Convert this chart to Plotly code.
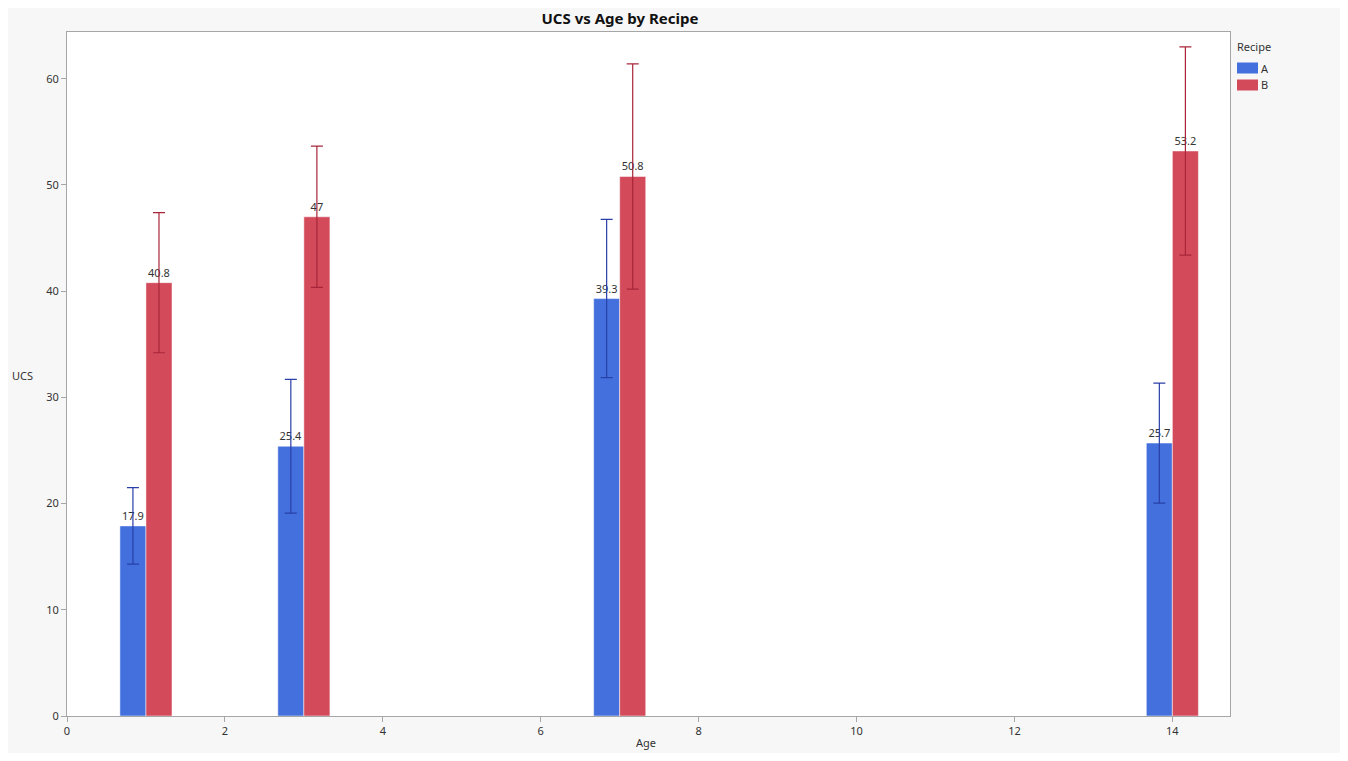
import plotly.graph_objects as go

ages = [1, 3, 7, 14]
ucs_a = [17.9, 25.4, 39.3, 25.7]
ucs_b = [40.8, 47.0, 50.8, 53.2]
err_a = [3.6, 6.3, 7.45, 5.65]
err_b = [6.6, 6.65, 10.6, 9.8]
x_ticks = [0, 2, 4, 6, 8, 10, 12, 14]
y_ticks = [0, 10, 20, 30, 40, 50, 60]
recipes = ["A", "B"]
colors = ["#4370dc", "#d34a5a"]

FONT = "Noto Sans"
# page offset of 8px (body margin); plot area in page pixels: x 67..1230, y 32..716
OX, OY = 8, 8
PL, PR, PT, PB = 67, 1230, 32, 716
PW, PH = PR - PL, PB - PT


def px(x):
    return (x - PL) / PW


def py(y):
    return (PB - y) / PH


fig = go.Figure()
fig.add_trace(go.Bar(
    x=ages, y=ucs_a, name=recipes[0], width=0.33, offset=-0.33,
    marker=dict(color=colors[0], line=dict(color="rgba(255,255,255,0.5)", width=1)),
    error_y=dict(type="data", array=err_a, color="#2a3fa8", thickness=1.2, width=6),
    text=[f"{v:g}" for v in ucs_a], textposition="outside",
    textfont=dict(size=11, color="#333333", family=FONT), cliponaxis=False,
))
fig.add_trace(go.Bar(
    x=ages, y=ucs_b, name=recipes[1], width=0.33, offset=0,
    marker=dict(color=colors[1], line=dict(color="rgba(255,255,255,0.5)", width=1)),
    error_y=dict(type="data", array=err_b, color="#a8263a", thickness=1.2, width=6),
    text=[f"{v:g}" for v in ucs_b], textposition="outside",
    textfont=dict(size=11, color="#333333", family=FONT), cliponaxis=False,
))

shapes = []
annotations = [
    dict(text="UCS", xref="paper", yref="paper", x=px(22), y=py(375), showarrow=False,
         xanchor="center", yanchor="middle", font=dict(size=11, color="#333333")),
    dict(text="Age", xref="paper", yref="paper", x=px(646), y=py(742), showarrow=False,
         xanchor="center", yanchor="middle", font=dict(size=11, color="#333333")),
    dict(text="Recipe", xref="paper", yref="paper", x=px(1235), y=py(47), showarrow=False,
         xanchor="left", yanchor="middle", font=dict(size=11, color="#333333")),
]
for i, (name, col) in enumerate(zip(recipes, colors)):
    yc = 68 + 17 * i
    shapes.append(dict(type="rect", xref="paper", yref="paper", x0=px(1237), x1=px(1258),
                       y0=py(yc + 5.5), y1=py(yc - 5.5), fillcolor=col, line=dict(width=0)))
    annotations.append(dict(text=name, xref="paper", yref="paper", x=px(1259), y=py(yc),
                            showarrow=False, xanchor="left", yanchor="middle",
                            font=dict(size=11, color="#333333")))

fig.update_layout(
    width=1332, height=745, barmode="overlay", showlegend=False,
    margin=dict(l=PL - OX, r=1332 + OX - PR, t=PT - OY, b=745 + OY - PB, autoexpand=False),
    paper_bgcolor="#f7f7f7", plot_bgcolor="white",
    font=dict(family=FONT, size=11, color="#333333"),
    title=dict(text="<b>UCS vs Age by Recipe</b>", x=(620 - OX) / 1332, xanchor="center",
               y=1 - (19 - OY) / 745, yanchor="middle",
               font=dict(size=15, color="#111111", family=FONT)),
    xaxis=dict(range=[0, 14.73], tickvals=x_ticks, showgrid=False, zeroline=False,
               showline=True, linecolor="#a6a6a6", mirror=True, ticks="outside",
               ticklen=5, tickcolor="#a6a6a6", automargin=False),
    yaxis=dict(range=[0, 64.4], tickvals=y_ticks, showgrid=False, zeroline=False,
               showline=True, linecolor="#a6a6a6", mirror=True, ticks="outside",
               ticklen=5, tickcolor="#a6a6a6", automargin=False),
    annotations=annotations,
    shapes=shapes,
)

fig.write_html("out.html")
